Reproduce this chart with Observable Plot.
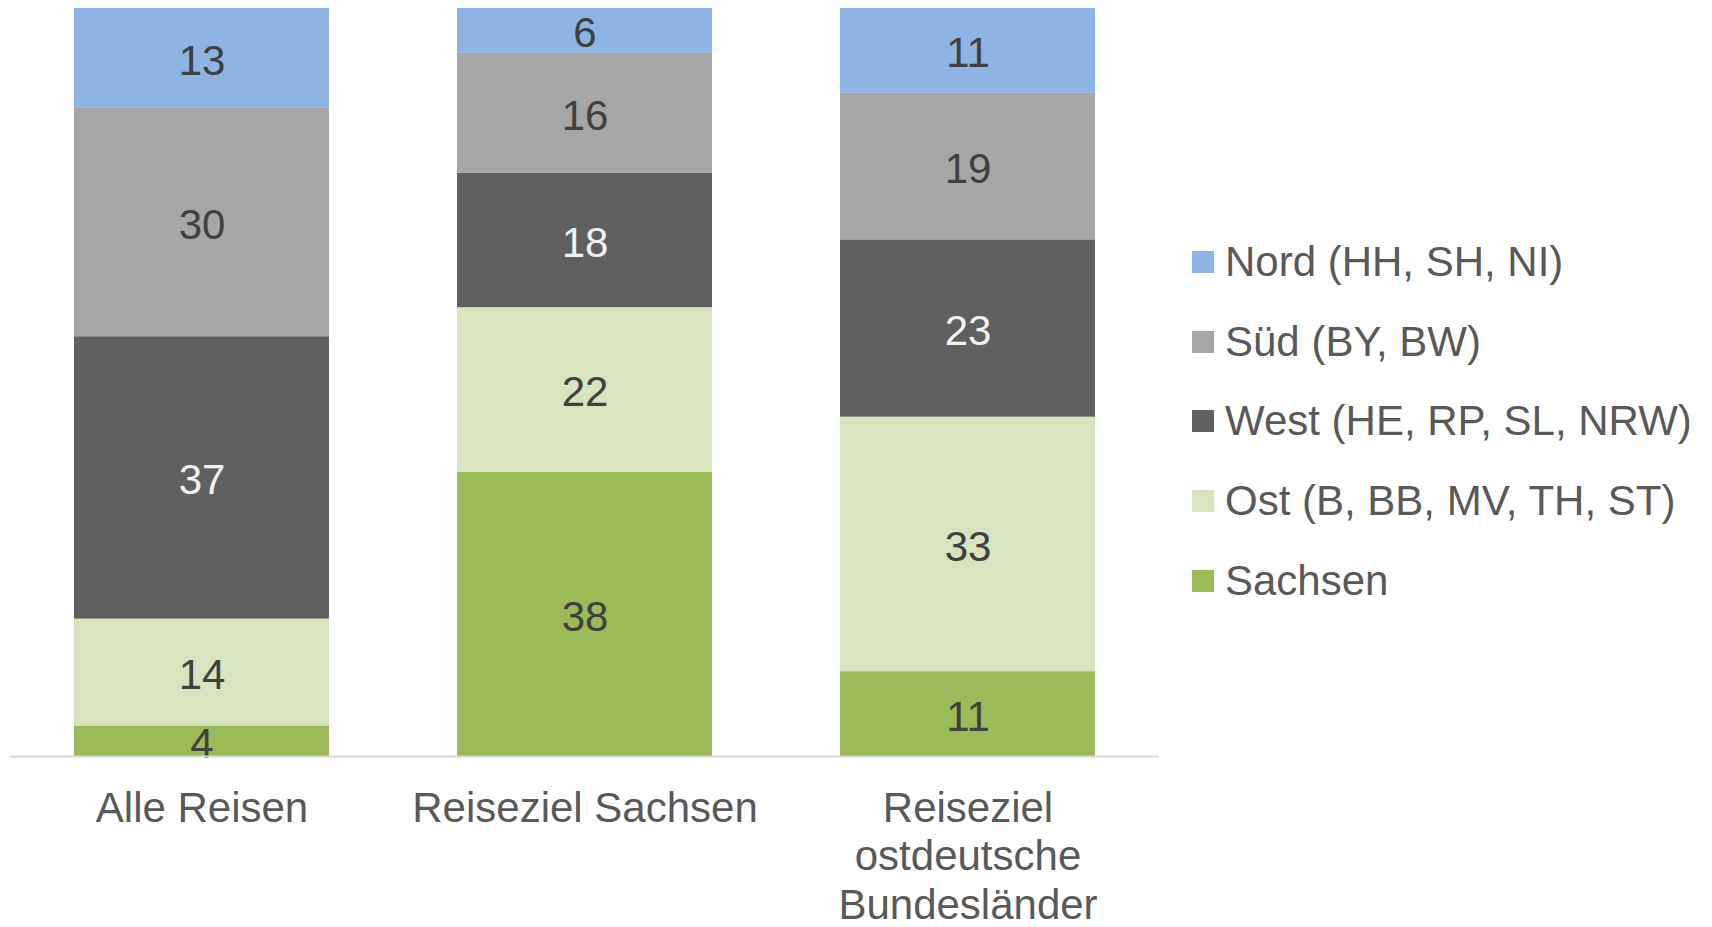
<!DOCTYPE html>
<html>
<head>
<meta charset="utf-8">
<script src="https://cdn.jsdelivr.net/npm/d3@7"></script>
<script src="https://cdn.jsdelivr.net/npm/@observablehq/plot@0.6"></script>
<style>
  html, body { margin: 0; padding: 0; background: #fff; }
  #wrap { position: relative; width: 1712px; height: 927px; font-family: "Liberation Sans", Arial, sans-serif; }
  #legend { position: absolute; left: 1192px; top: 222px; color: #595959; font-size: 42px; }
  .row { display: flex; align-items: center; height: 79.7px; white-space: nowrap; }
  .sw { width: 22px; height: 22px; margin-right: 11px; flex: none; }
</style>
</head>
<body>
<div id="wrap"></div>
<script>
// Categories (x axis)
const categories = ["Alle Reisen", "Reiseziel Sachsen", "Reiseziel ostdeutsche Bundesländer"];
const categoryLabels = ["Alle Reisen", "Reiseziel Sachsen", "Reiseziel\nostdeutsche\nBundesländer"];
// Series, bottom to top
const seriesNames = ["Sachsen", "Ost (B, BB, MV, TH, ST)", "West (HE, RP, SL, NRW)", "Süd (BY, BW)", "Nord (HH, SH, NI)"];
const seriesColors = ["#9BBB59", "#D7E4BD", "#606060", "#A6A6A6", "#8EB4E3"];
// Values per series, per category
const sachsen = [4, 38, 11];
const ost = [14, 22, 33];
const west = [37, 18, 23];
const sued = [30, 16, 19];
const nord = [13, 6, 11];

const seriesValues = [sachsen, ost, west, sued, nord];
const data = [];
seriesNames.forEach((s, i) => {
  categories.forEach((c, j) => {
    data.push({cat: c, series: s, value: seriesValues[i][j]});
  });
});

const font = "Liberation Sans, Arial, sans-serif";

const chart = Plot.plot({
  width: 1712,
  height: 927,
  marginLeft: 10,
  marginRight: 553,
  marginTop: 8,
  marginBottom: 171,
  style: {fontFamily: font, background: "white"},
  x: {domain: categories, paddingInner: 0.334, paddingOuter: 0.167, axis: null},
  y: {domain: [0, 1], axis: null},
  color: {domain: seriesNames, range: seriesColors},
  marks: [
    Plot.barY(data, Plot.stackY({offset: "normalize"}, {x: "cat", y: "value", fill: "series"})),
    Plot.text(data, Plot.stackY({offset: "normalize"}, {
      x: "cat", y: "value", text: d => String(d.value),
      fill: d => d.series === seriesNames[2] ? "#F2F2F2" : "#404040",
      fontSize: 42, fontFamily: font, dy: 3
    })),
    Plot.ruleY([0], {stroke: "#D9D9D9", strokeWidth: 2}),
    Plot.axisX({
      domain: categories,
      tickSize: 0,
      tickPadding: 31,
      tickFormat: d => categoryLabels[categories.indexOf(d)],
      fontSize: 42,
      lineHeight: 1.155,
      fill: "#595959",
      label: null
    })
  ]
});

const wrap = document.getElementById("wrap");
wrap.appendChild(chart);
chart.style.position = "absolute";
chart.style.left = "0";
chart.style.top = "0";

// Legend (top to bottom: Nord, Süd, West, Ost, Sachsen)
const legend = document.createElement("div");
legend.id = "legend";
for (let i = seriesNames.length - 1; i >= 0; i--) {
  const row = document.createElement("div");
  row.className = "row";
  const sw = document.createElement("div");
  sw.className = "sw";
  sw.style.background = seriesColors[i];
  const t = document.createElement("span");
  t.textContent = seriesNames[i];
  row.appendChild(sw);
  row.appendChild(t);
  legend.appendChild(row);
}
wrap.appendChild(legend);
</script>
</body>
</html>
